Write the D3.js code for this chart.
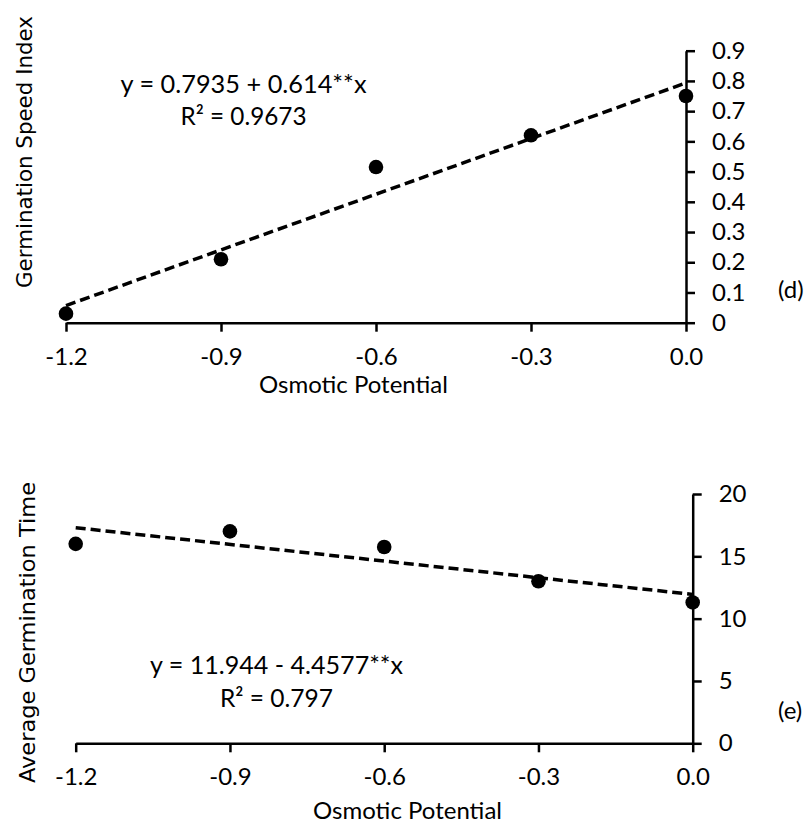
<!DOCTYPE html>
<html>
<head>
<meta charset="utf-8">
<script src="https://cdn.jsdelivr.net/npm/d3@7"></script>
<style>
  body { margin: 0; background: #fff; }
  .axis path, .axis line { stroke: #000; stroke-width: 2.5px; }
  .axis text { font-family: Lato, sans-serif; font-size: 24px; fill: #000; }
  .lbl { font-family: Lato, sans-serif; font-size: 24px; fill: #000; }
  .ylbl { font-family: "DejaVu Sans", sans-serif; font-size: 21.5px; fill: #000; }
  .eq { font-family: Lato, sans-serif; font-size: 25px; fill: #000; }
</style>
</head>
<body>
<script>
//osmotic potential levels (MPa) shared by both panels
var osmotic = [-1.2, -0.9, -0.6, -0.3, 0.0];

//panel (d) germination speed index
var gsi = [0.03, 0.21, 0.515, 0.62, 0.75];
var gsiTicks = [0, 0.1, 0.2, 0.3, 0.4, 0.5, 0.6, 0.7, 0.8, 0.9];
var gsiFit = [0.7935, 0.614]; //intercept, slope

//panel (e) average germination time
var mgt = [16.0, 17.0, 15.75, 13.0, 11.3];
var mgtTicks = [0, 5, 10, 15, 20];
var mgtFit = [11.944, -4.4577];

var svg = d3.select("body").append("svg")
    .attr("width", 811)
    .attr("height", 825);

//draws one panel
function panel(opt){
    var x = d3.scaleLinear().domain([-1.2, 0]).range([opt.x0, opt.x1]);
    var y = d3.scaleLinear().domain([0, opt.ymax]).range([opt.y0, opt.y1]);

    var xAxis = d3.axisBottom(x)
        .tickValues(osmotic)
        .tickSize(9)
        .tickSizeOuter(0)
        .tickPadding(16)
        .tickFormat(function(d){ return d.toFixed(1); });

    svg.append("g")
        .attr("class", "axis")
        .attr("transform", "translate(0," + opt.y0 + ")")
        .call(xAxis);

    var yAxis = d3.axisRight(y)
        .tickValues(opt.ticks)
        .tickSize(9)
        .tickSizeOuter(0)
        .tickPadding(17)
        .tickFormat(opt.fmt);

    svg.append("g")
        .attr("class", "axis")
        .attr("transform", "translate(" + opt.x1 + ",0)")
        .call(yAxis);

    //regression line from the fitted equation
    var fit = [-1.2, 0].map(function(v){ return [v, opt.fit[0] + opt.fit[1] * v]; });
    svg.append("path")
        .datum(fit)
        .attr("d", d3.line()
            .x(function(d){ return x(d[0]); })
            .y(function(d){ return y(d[1]); }))
        .style("fill", "none")
        .style("stroke", "#000")
        .style("stroke-width", 3.5)
        .style("stroke-dasharray", "10,5");

    svg.selectAll(".pt" + opt.id)
        .data(opt.values)
        .enter()
        .append("circle")
        .attr("class", "pt" + opt.id)
        .attr("cx", function(d, i){ return x(osmotic[i]); })
        .attr("cy", function(d){ return y(d); })
        .attr("r", 7.3)
        .style("fill", "#000");

    //axis titles
    svg.append("text")
        .attr("class", "lbl")
        .attr("text-anchor", opt.xlAnchor)
        .attr("x", opt.xlX)
        .attr("y", opt.xlY)
        .text("Osmotic Potential");

    svg.append("text")
        .attr("class", "ylbl")
        .attr("text-anchor", "middle")
        .attr("textLength", opt.ylLen)
        .attr("lengthAdjust", "spacingAndGlyphs")
        .attr("transform", "translate(" + opt.ylX + "," + opt.ylY + ") rotate(-90)")
        .text(opt.ylabel);

    //panel letter
    svg.append("text")
        .attr("class", "lbl")
        .attr("x", 778)
        .attr("y", opt.tagY)
        .text(opt.tag);

    //equation, two centred lines
    [opt.eq1, opt.eq2].forEach(function(s, i){
        svg.append("text")
            .attr("class", "eq")
            .attr("text-anchor", "middle")
            .attr("x", opt.eqX)
            .attr("y", opt.eqY + i * 32.5)
            .attr("textLength", opt.eqLen[i])
            .attr("lengthAdjust", "spacingAndGlyphs")
            .text(s);
    });
}

panel({
    id: "d",
    x0: 66, x1: 686,
    y0: 322.7, y1: 50.7,
    ymax: 0.9,
    ticks: gsiTicks,
    fmt: function(d){ return d === 0 ? "0" : d.toFixed(1); },
    values: gsi,
    fit: gsiFit,
    xlAnchor: "start", xlX: 259, xlY: 393,
    ylabel: "Germination Speed Index",
    ylX: 32, ylY: 152, ylLen: 272,
    tag: "(d)", tagY: 298,
    eq1: "y = 0.7935 + 0.614**x",
    eq2: "R\u00b2 = 0.9673",
    eqX: 243.5, eqY: 92.5, eqLen: [246, 126]
});

panel({
    id: "e",
    x0: 75.7, x1: 692.7,
    y0: 743.3, y1: 494,
    ymax: 20,
    ticks: mgtTicks,
    fmt: function(d){ return String(d); },
    values: mgt,
    fit: mgtFit,
    xlAnchor: "end", xlX: 502, xlY: 819,
    ylabel: "Average Germination Time",
    ylX: 35, ylY: 632.5, ylLen: 301,
    tag: "(e)", tagY: 719,
    eq1: "y = 11.944 - 4.4577**x",
    eq2: "R\u00b2 = 0.797",
    eqX: 276.5, eqY: 674, eqLen: [253, 113]
});
</script>
</body>
</html>
